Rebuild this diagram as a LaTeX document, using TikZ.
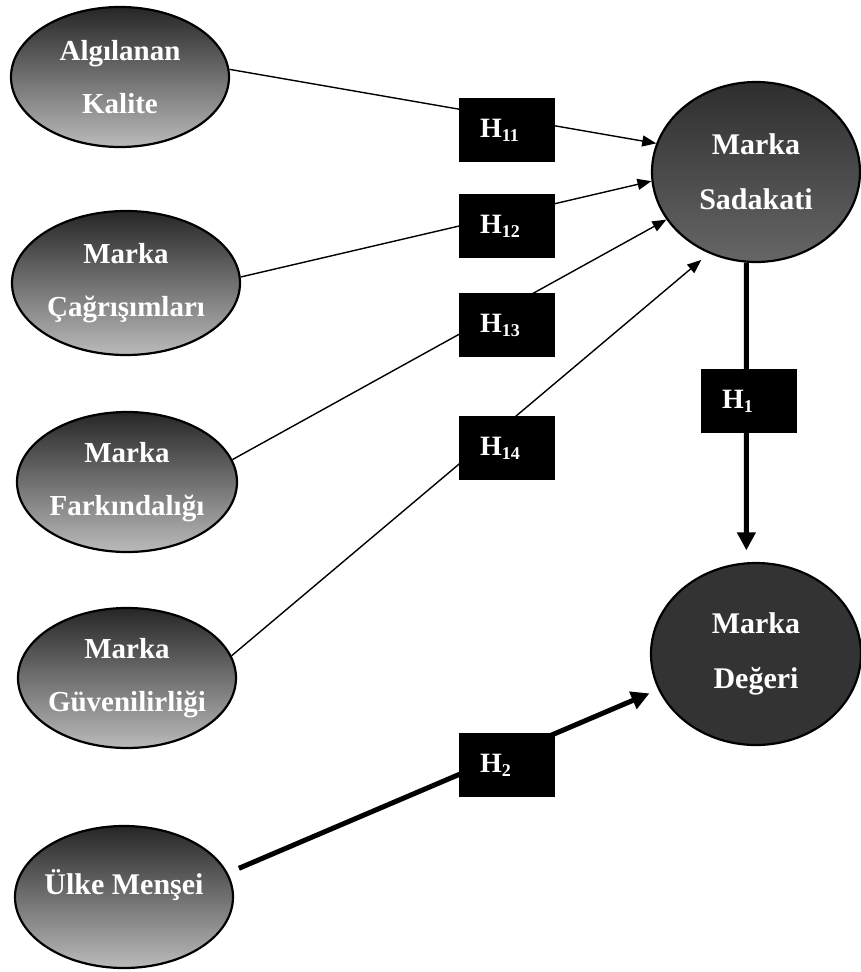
\documentclass[tikz,border=0pt]{standalone}
\usepackage{fontspec}
\setmainfont{Liberation Serif}
\usetikzlibrary{arrows.meta,shapes.geometric}

% hypothesis label: H with a lowered index
\newcommand\hyplabel[1]{H\raisebox{-4pt}{\fontsize{18}{18}\selectfont #1}}

\begin{document}
\begin{tikzpicture}[x=1pt,y=-1pt,
  % negative inner sep lets the minimum sizes alone fix each ellipse
  construct/.style={ellipse, draw=black, line width=2.2pt, inner sep=-40pt,
    text=white, align=center, font=\fontsize{29}{53}\selectfont\bfseries},
  exo/.style={construct, top color=black!85, bottom color=black!27},
  loyal/.style={construct, top color=black!82, bottom color=black!60,
    font=\fontsize{30}{55}\selectfont\bfseries},
  equity/.style={construct, fill=black!80,
    font=\fontsize{30}{55}\selectfont\bfseries},
  hypbox/.style={fill=black, text=white, minimum width=96pt, minimum height=64pt,
    inner xsep=21pt, inner ysep=0pt, text width=54pt, align=left,
    font=\fontsize{28}{30}\selectfont\bfseries},
  thinarrow/.style={line width=1.4pt, -{Triangle[length=14pt,width=11pt]}},
  thickarrow/.style={line width=5pt, -{Triangle[length=18pt,width=18pt]}}
]
\useasboundingbox (0,0) rectangle (861,972);

% constructs
\node[exo, minimum width=218pt, minimum height=140pt] (kal)  at (120,77)  {Algılanan\\Kalite};
\node[exo, minimum width=228pt, minimum height=144pt] (cag)  at (126,283) {Marka\\Çağrışımları};
\node[exo, minimum width=220pt, minimum height=140pt] (fark) at (127,482) {Marka\\Farkındalığı};
\node[exo, minimum width=218pt, minimum height=140pt] (guv)  at (127,678) {Marka\\Güvenilirliği};
\node[exo, minimum width=218pt, minimum height=142pt,
      font=\fontsize{30}{53}\selectfont\bfseries] (ulke) at (124,897) {\raisebox{30pt}{Ülke Menşei}};
\node[loyal, minimum width=208pt, minimum height=180pt] (sad) at (756,172) {Marka\\Sadakati};
\node[equity, minimum width=210pt, minimum height=182pt] (deg) at (756,654) {Marka\\Değeri};

% paths
\draw[thinarrow] (kal.4)  -- (sad.164);
\draw[thinarrow] (cag.3)  -- (sad.185.5);
\draw[thinarrow] (fark.12) -- (sad.208.6);
\draw[thinarrow, shorten >=10pt] (guv.12) -- (sad.240);
\draw[thickarrow, shorten >=12pt] (sad.264) -- (deg.96);
\draw[thickarrow, shorten <=12pt, shorten >=9.5pt] (ulke.13) -- (deg.200);

% hypothesis labels
\node[hypbox] (h11) at (507,130) {\hyplabel{11}};
\node[hypbox] (h12) at (507,226) {\hyplabel{12}};
\node[hypbox] (h13) at (507,325) {\hyplabel{13}};
\node[hypbox] (h14) at (507,448) {\hyplabel{14}};
\node[hypbox] (h1)  at (749,401) {\hyplabel{1}};
\node[hypbox] (h2)  at (507,765) {\hyplabel{2}};
\end{tikzpicture}
\end{document}
